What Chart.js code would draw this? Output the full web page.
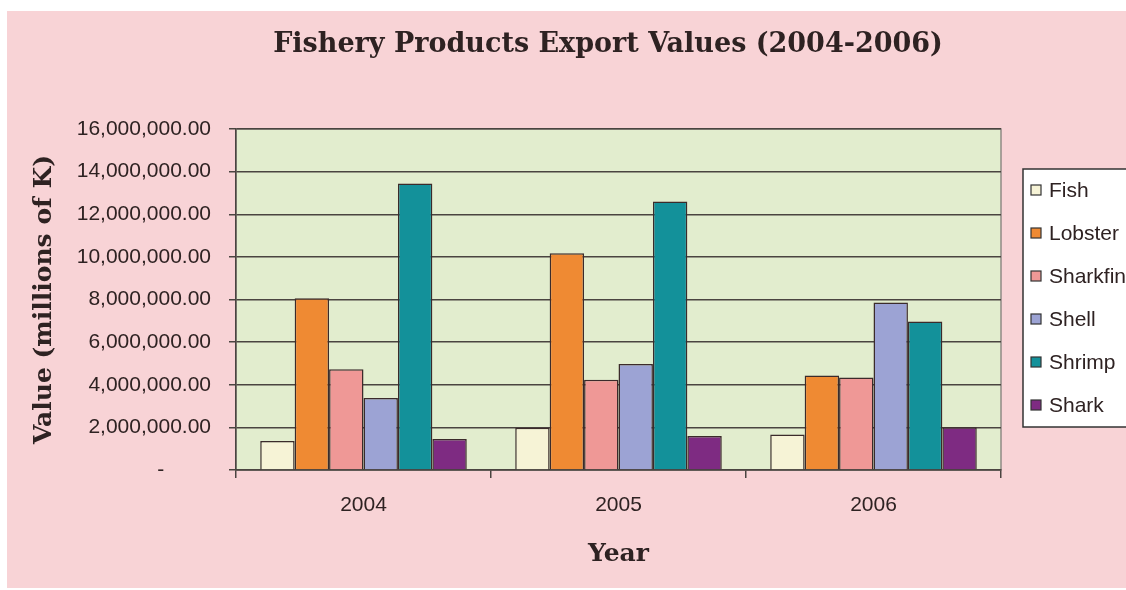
<!DOCTYPE html>
<html>
<head>
<meta charset="utf-8">
<title>Fishery Products Export Values</title>
<script src="https://cdn.jsdelivr.net/npm/chart.js@4.4.0/dist/chart.umd.min.js"></script>
<style>
    html, body {
        margin: 0;
        padding: 0;
        width: 1126px;
        height: 590px;
        overflow: hidden;
        background: #ffffff;
    }
    .frame {
        position: absolute;
        left: 7px;
        top: 11px;
        width: 1140px;
        height: 577px;
        background: #f8d3d6;
    }
    canvas {
        display: block;
    }
</style>
</head>
<body>
<div class="frame">
    <canvas id="exportChart" width="1140" height="577"></canvas>
</div>
<script>
const years = ['2004', '2005', '2006'];
const products = ['Fish', 'Lobster', 'Sharkfin', 'Shell', 'Shrimp', 'Shark'];
const fishValues = [1360000, 1980000, 1670000];
const lobsterValues = [8060000, 10170000, 4430000];
const sharkfinValues = [4730000, 4240000, 4340000];
const shellValues = [3380000, 4970000, 7860000];
const shrimpValues = [13440000, 12600000, 6970000];
const sharkValues = [1460000, 1590000, 2010000];
const productColors = ['#f6f3d6', '#ef8a33', '#ef9896', '#9ca3d4', '#13919a', '#7e2b82'];
const yTicksMax = 16000000;
const yTicksStep = 2000000;

const chartTitle = 'Fishery Products Export Values (2004-2006)';
const inkColor = '#2e2222';
const lineColor = '#4a4440';
const titleFamily = 'DejaVu Serif';

const seriesValues = [fishValues, lobsterValues, sharkfinValues, shellValues, shrimpValues, sharkValues];

// Plot background, frame, title and the boxed legend on the right
const framePlugin = {
    id: 'frame',
    beforeDraw(chart) {
        const { ctx, chartArea: a } = chart;
        ctx.save();
        ctx.fillStyle = '#e2edce';
        ctx.fillRect(a.left, a.top, a.right - a.left, a.bottom - a.top);
        ctx.strokeStyle = '#8f8a85';
        ctx.lineWidth = 1.5;
        ctx.strokeRect(a.left, a.top, a.right - a.left, a.bottom - a.top);
        ctx.restore();
    },
    afterDraw(chart) {
        const { ctx } = chart;
        ctx.save();

        ctx.fillStyle = inkColor;
        ctx.font = `bold 27px '${titleFamily}'`;
        ctx.textAlign = 'center';
        ctx.textBaseline = 'middle';
        ctx.fillText(chartTitle, 601, 34);

        ctx.fillStyle = '#ffffff';
        ctx.fillRect(1016, 158, 140, 258);
        ctx.strokeStyle = '#333333';
        ctx.lineWidth = 1.5;
        ctx.strokeRect(1016, 158, 140, 258);

        ctx.font = "21px 'Liberation Sans'";
        ctx.textAlign = 'left';
        chart.data.datasets.forEach((ds, i) => {
            const y = 179 + i * 43;
            ctx.fillStyle = ds.backgroundColor;
            ctx.fillRect(1024, y - 5, 10, 10);
            ctx.strokeStyle = '#333333';
            ctx.lineWidth = 1.2;
            ctx.strokeRect(1024, y - 5, 10, 10);
            ctx.fillStyle = inkColor;
            ctx.fillText(ds.label, 1042, y + 1);
        });
        ctx.restore();
    }
};

const formatValue = v => {
    if (v === 0) return '-        ';
    return v.toLocaleString('en-US', { minimumFractionDigits: 2, maximumFractionDigits: 2 });
};

new Chart(document.getElementById('exportChart'), {
    type: 'bar',
    data: {
        labels: years,
        datasets: products.map((name, i) => ({
            label: name,
            data: seriesValues[i],
            backgroundColor: productColors[i],
            borderColor: '#3b2b2b',
            borderWidth: 1.5,
            barPercentage: 1,
            categoryPercentage: 0.81
        }))
    },
    options: {
        responsive: false,
        animation: false,
        layout: {
            padding: { top: 118, right: 146, bottom: 0, left: 0 }
        },
        plugins: {
            legend: { display: false },
            title: { display: false },
            tooltip: { enabled: false }
        },
        scales: {
            x: {
                afterFit(scale) { scale.height = 118; },
                grid: {
                    display: true,
                    drawOnChartArea: false,
                    drawTicks: true,
                    tickLength: 8,
                    color: lineColor,
                    lineWidth: 1.5
                },
                border: { display: true, color: lineColor, width: 1.5 },
                ticks: {
                    color: inkColor,
                    font: { family: 'Liberation Sans', size: 21 },
                    padding: 15
                },
                title: {
                    display: true,
                    text: 'Year',
                    color: inkColor,
                    font: { family: titleFamily, size: 25, weight: 'bold' },
                    padding: { top: 19, bottom: 19 }
                }
            },
            y: {
                min: 0,
                max: yTicksMax,
                afterFit(scale) { scale.width = 229; },
                grid: {
                    color: lineColor,
                    lineWidth: 1.5,
                    drawTicks: true,
                    tickLength: 7
                },
                border: { display: true, color: lineColor, width: 1.5 },
                ticks: {
                    stepSize: yTicksStep,
                    color: inkColor,
                    font: { family: 'Liberation Sans', size: 21 },
                    padding: 18,
                    callback: formatValue
                },
                title: {
                    display: true,
                    text: 'Value (millions of K)',
                    color: inkColor,
                    font: { family: titleFamily, size: 25, weight: 'bold' },
                    padding: { top: 22, bottom: 22 }
                }
            }
        }
    },
    plugins: [framePlugin]
});
</script>
</body>
</html>
